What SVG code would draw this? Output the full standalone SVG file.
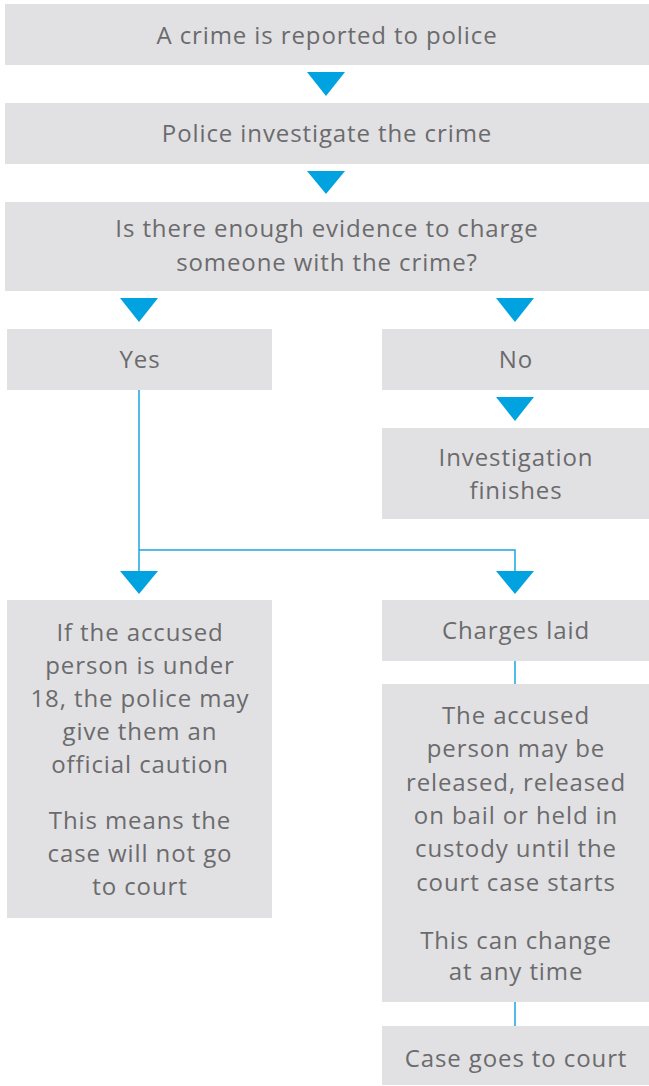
<svg xmlns="http://www.w3.org/2000/svg" width="649" height="1086" viewBox="0 0 649 1086">
<style>
.box{fill:#e1e1e3}
.t{font-family:"Open Sans","Liberation Sans",sans-serif;font-size:24px;letter-spacing:0.9px;fill:#6b6b6d;text-anchor:middle}
.ln{stroke:#1aa6e0;stroke-width:1.5;fill:none}
.ar{fill:#00a3e0}
</style>
<rect width="649" height="1086" fill="#ffffff"/>
<g id="connectors">
<path class="ln" d="M139 390 V572 M139 550 H515 V572"/>
<path class="ln" d="M515 661 V684 M515 1002 V1026"/>
<polygon class="ar" points="307,72 345,72 326,96"/>
<polygon class="ar" points="307,171 345,171 326,194"/>
<polygon class="ar" points="120,298 158,298 139,322"/>
<polygon class="ar" points="496,298 534,298 515,322"/>
<polygon class="ar" points="496,397 534,397 515,421"/>
<polygon class="ar" points="120,571 158,571 139,594"/>
<polygon class="ar" points="496,571 534,571 515,594"/>
</g>
<g id="n1"><rect class="box" x="5" y="4" width="644" height="61"/><text class="t" x="327" y="44">A crime is reported to police</text></g>
<g id="n2"><rect class="box" x="5" y="103" width="644" height="61"/><text class="t" x="327" y="142">Police investigate the crime</text></g>
<g id="n3"><rect class="box" x="5" y="202" width="644" height="89"/><text class="t" x="327" y="237">Is there enough evidence to charge</text><text class="t" x="327" y="271">someone with the crime?</text></g>
<g id="yes"><rect class="box" x="7" y="329" width="265" height="61"/><text class="t" x="140" y="368">Yes</text></g>
<g id="no"><rect class="box" x="382" y="329" width="267" height="61"/><text class="t" x="516" y="368">No</text></g>
<g id="finish"><rect class="box" x="382" y="428" width="267" height="91"/><text class="t" x="516" y="466">Investigation</text><text class="t" x="516" y="499">finishes</text></g>
<g id="caution"><rect class="box" x="7" y="600" width="265" height="318"/>
<text class="t" x="140" y="641">If the accused</text>
<text class="t" x="140" y="674">person is under</text>
<text class="t" x="140" y="707">18, the police may</text>
<text class="t" x="140" y="740">give them an</text>
<text class="t" x="140" y="773">official caution</text>
<text class="t" x="140" y="829">This means the</text>
<text class="t" x="140" y="862">case will not go</text>
<text class="t" x="140" y="895">to court</text>
</g>
<g id="charges"><rect class="box" x="382" y="600" width="267" height="61"/><text class="t" x="516" y="639">Charges laid</text></g>
<g id="custody"><rect class="box" x="382" y="684" width="267" height="318"/>
<text class="t" x="516" y="724">The accused</text>
<text class="t" x="516" y="757">person may be</text>
<text class="t" x="516" y="791">released, released</text>
<text class="t" x="516" y="824">on bail or held in</text>
<text class="t" x="516" y="857">custody until the</text>
<text class="t" x="516" y="891">court case starts</text>
<text class="t" x="516" y="949">This can change</text>
<text class="t" x="516" y="980">at any time</text>
</g>
<g id="court"><rect class="box" x="382" y="1026" width="267" height="59"/><text class="t" x="516" y="1067">Case goes to court</text></g>
</svg>
